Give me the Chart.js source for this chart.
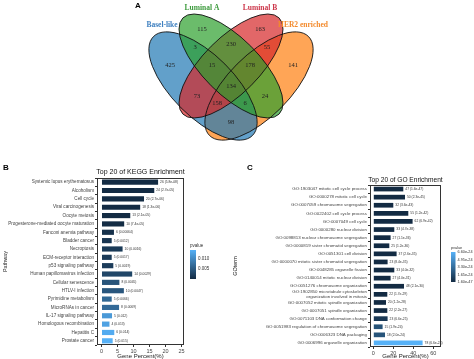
<!DOCTYPE html>
<html>
<head>
<meta charset="utf-8">
<script src="https://cdn.jsdelivr.net/npm/chart.js@4/dist/chart.umd.min.js"></script>
<style>
  body { margin: 0; background: #fff; }
  #wrap { position: relative; width: 474px; height: 359px; overflow: hidden; }
  canvas { position: absolute; }
  .tag { position: absolute; font: bold 8px 'Liberation Sans', Arial, sans-serif; color: #000; line-height: 8px; }
</style>
</head>
<body>
<div id="wrap">
  <canvas id="venn" width="474" height="160" style="left:0;top:0"></canvas>
  <canvas id="kegg" width="240" height="199" style="left:0;top:160px"></canvas>
  <canvas id="go" width="244" height="199" style="left:230px;top:160px"></canvas>
  <div class="tag" style="left:135px;top:2px">A</div>
  <div class="tag" style="left:3px;top:164px">B</div>
  <div class="tag" style="left:247px;top:164px">C</div>
</div>
<script>
'use strict'

// ---- panel A: venn ----
const vennSets = ['Basel-like', 'Luminal A', 'Luminal B', 'HER2 enriched']
const vennCounts = [425, 115, 163, 141, 3, 230, 55, 15, 178, 134, 73, 24, 158, 6, 98]

// ---- panel B: KEGG ----
const keggTerms = [
  'Systemic lupus erythematosus', 'Alcoholism', 'Cell cycle', 'Viral carcinogenesis',
  'Oocyte meiosis', 'Progesterone-mediated oocyte maturation', 'Fanconi anemia pathway',
  'Bladder cancer', 'Necroptosis', 'ECM-receptor interaction', 'p53 signaling pathway',
  'Human papillomavirus infection', 'Cellular senescence', 'HTLV-I infection',
  'Pyrimidine metabolism', 'MicroRNAs in cancer', 'IL-17 signaling pathway',
  'Homologous recombination', 'Hepatitis C', 'Prostate cancer'
]
const keggPercent = [17.7, 16.5, 13.3, 12.1, 9.0, 7.1, 3.9, 3.2, 6.6, 3.2, 3.7, 9.6, 5.6, 7.0, 3.2, 5.5, 3.3, 2.5, 4.0, 3.5]
const keggCounts = [26, 24, 20, 18, 13, 10, 6, 5, 10, 5, 5, 14, 8, 10, 5, 8, 5, 4, 6, 5]
const keggPvalue = [5.8e-8, 2.7e-5, 2.7e-6, 1.3e-6, 2.1e-5, 7.4e-5, 0.00064, 0.0012, 0.0016, 0.0017,
  0.0019, 0.0029, 0.0045, 0.0047, 0.0066, 0.0069, 0.012, 0.013, 0.014, 0.0146]
const keggTicks = [0, 5, 10, 15, 20, 25]
const keggLegendTicks = [0.005, 0.010]

// ---- panel C: GO ----
const goTerms = [
  'GO:1903047 mitotic cell cycle process', 'GO:0000278 mitotic cell cycle',
  'GO:0007059 chromosome segregation', 'GO:0022402 cell cycle process', 'GO:0007049 cell cycle',
  'GO:0000280 nuclear division', 'GO:0098813 nuclear chromosome segregation',
  'GO:0000819 sister chromatid segregation', 'GO:0051301 cell division',
  'GO:0000070 mitotic sister chromatid segregation', 'GO:0048285 organelle fission',
  'GO:0140014 mitotic nuclear division', 'GO:0051276 chromosome organization',
  ['GO:1902850 microtubule cytoskeleton', 'organization involved in mitosis'],
  'GO:0007052 mitotic spindle organization', 'GO:0007051 spindle organization',
  'GO:0071103 DNA conformation change', 'GO:0051983 regulation of chromosome segregation',
  'GO:0006323 DNA packaging', 'GO:0006996 organelle organization'
]
const goPercent = [30, 31.7, 20, 35, 39.3, 21, 17.3, 16, 23.3, 14.3, 21, 17.3, 30.7, 14, 12.7, 14, 14.3, 9.3, 11.7, 49.3]
const goCounts = [47, 50, 32, 55, 62, 33, 27, 25, 37, 23, 33, 27, 48, 22, 20, 22, 23, 15, 18, 78]
const goPvalue = [1.6e-47, 2.3e-45, 3.6e-43, 1.2e-42, 6.9e-42, 4.7e-38, 1.1e-36, 1.2e-36, 2.6e-35, 8.4e-35,
  4.0e-32, 4.0e-31, 2.1e-30, 1.7e-29, 1.2e-28, 2.2e-27, 6.6e-25, 1.9e-24, 2.0e-24, 6.6e-24]
const goTicks = [0, 20, 40, 60]
const goLegendTicks = [6.6e-24, 4.95e-24, 3.3e-24, 1.65e-24, 1.6e-47]

// layout of the venn (page pixels)
const vennShapes = [
  { cx: 203, cy: 86, rx: 70, ry: 31, rot: 45, color: '#1f77b4' },
  { cx: 231, cy: 66, rx: 68, ry: 28, rot: 45, color: '#2ca02c' },
  { cx: 231, cy: 66, rx: 68, ry: 28, rot: -45, color: '#d62728' },
  { cx: 259, cy: 86, rx: 70, ry: 31, rot: -45, color: '#ff7f0e' }
]
const vennAnchors = [[170, 65], [202, 29], [260, 29], [293, 65], [195, 47], [231, 44], [267, 47],
  [212, 65], [250, 65], [231, 86], [197, 96], [265, 96], [217, 103], [245, 103], [231, 122]]
const vennNamePos = [[162, 25], [202, 8], [260, 8], [303, 25]]
const vennNameColors = ['#3f80c0', '#3c9a3c', '#cc3549', '#f38a2c']

Chart.defaults.font.family = "'Liberation Sans', Arial, sans-serif"
Chart.defaults.color = '#444'

const vennDraw = {
  id: 'vennDraw',
  beforeDatasetsDraw(chart) {
    const { ctx, scales: { x, y } } = chart
    const path = e => {
      const cx = x.getPixelForValue(e.cx), cy = y.getPixelForValue(e.cy)
      const rx = Math.abs(x.getPixelForValue(e.cx + e.rx) - cx)
      const ry = Math.abs(x.getPixelForValue(e.cx + e.ry) - cx)
      ctx.beginPath()
      ctx.ellipse(cx, cy, rx, ry, e.rot * Math.PI / 180, 0, Math.PI * 2)
    }
    ctx.save()
    ;[3, 0, 2, 1].forEach(i => {
      path(vennShapes[i])
      ctx.globalAlpha = 0.7
      ctx.fillStyle = vennShapes[i].color
      ctx.fill()
    })
    ctx.globalAlpha = 1
    ctx.strokeStyle = '#111'
    ctx.lineWidth = 0.9
    vennShapes.forEach(e => { path(e); ctx.stroke() })
    ctx.restore()
  },
  afterDatasetsDraw(chart) {
    const { ctx, scales: { x, y } } = chart
    const meta = chart.getDatasetMeta(0)
    ctx.save()
    ctx.textAlign = 'center'
    ctx.textBaseline = 'middle'
    ctx.font = "6.5px 'Liberation Serif', 'Times New Roman', serif"
    ctx.fillStyle = '#222'
    meta.data.forEach((pt, i) => ctx.fillText(String(vennCounts[i]), pt.x, pt.y))
    ctx.font = "bold 7.5px 'Liberation Serif', 'Times New Roman', serif"
    vennSets.forEach((name, i) => {
      ctx.fillStyle = vennNameColors[i]
      ctx.fillText(name, x.getPixelForValue(vennNamePos[i][0]), y.getPixelForValue(vennNamePos[i][1]))
    })
    ctx.restore()
  }
}

new Chart(document.getElementById('venn'), {
  type: 'scatter',
  data: { datasets: [{ data: vennAnchors.map(([x, y]) => ({ x, y })), pointRadius: 0 }] },
  options: {
    responsive: false,
    animation: false,
    layout: { padding: 0 },
    scales: {
      x: { type: 'linear', min: 0, max: 474, display: false },
      y: { type: 'linear', min: 0, max: 160, reverse: true, display: false }
    },
    plugins: { legend: { display: false }, tooltip: { enabled: false } }
  },
  plugins: [vennDraw]
})

// ---- enrichment bar charts ----
const LOW = [19, 43, 67], HIGH = [86, 177, 247]
function pColor(p, min, max) {
  const t = Math.max(0, Math.min(1, (p - min) / (max - min)))
  const c = LOW.map((v, k) => Math.round(v + (HIGH[k] - v) * t))
  return `rgb(${c[0]},${c[1]},${c[2]})`
}
function fmtP(p) {
  if (p < 1e-4) return p.toExponential(1).replace(/e([+-])(\d)$/, 'e$10$2')
  return String(Number(p.toPrecision(2)))
}

const enrichDecor = {
  id: 'enrichDecor',
  afterDatasetsDraw(chart, args, opts) {
    const { ctx, chartArea: area } = chart
    const meta = chart.getDatasetMeta(0)
    ctx.save()
    ctx.font = `${opts.valueSize}px 'Liberation Sans', Arial, sans-serif`
    ctx.fillStyle = '#333'
    ctx.textBaseline = 'middle'
    meta.data.forEach((bar, i) => ctx.fillText(opts.valueText[i], bar.x + 2, bar.y))

    ctx.strokeStyle = '#333'
    ctx.lineWidth = 1
    ctx.strokeRect(area.left + 0.5, area.top + 0.5, area.width - 1, area.height - 1)

    ctx.font = `${opts.titleSize}px 'Liberation Sans', Arial, sans-serif`
    ctx.fillStyle = '#111'
    ctx.textAlign = 'center'
    ctx.fillText(opts.title, (area.left + area.right) / 2, opts.titleY)

    const lg = opts.legend
    ctx.textAlign = 'left'
    ctx.font = `${lg.fontSize}px 'Liberation Sans', Arial, sans-serif`
    ctx.fillStyle = '#333'
    ctx.fillText('pvalue', lg.x, lg.top - 4)
    const grad = ctx.createLinearGradient(0, lg.bottom, 0, lg.top)
    grad.addColorStop(0, pColor(lg.min, lg.min, lg.max))
    grad.addColorStop(1, pColor(lg.max, lg.min, lg.max))
    ctx.fillStyle = grad
    ctx.fillRect(lg.x, lg.top, lg.width, lg.bottom - lg.top)
    ctx.fillStyle = '#333'
    lg.ticks.forEach(v => {
      const yy = lg.bottom - (v - lg.min) / (lg.max - lg.min) * (lg.bottom - lg.top)
      ctx.fillText(lg.format(v), lg.x + lg.width + 2, yy)
    })
    ctx.restore()
  }
}

function enrichChart(id, cfg) {
  const pMin = Math.min(...cfg.pvalues), pMax = Math.max(...cfg.pvalues)
  return new Chart(document.getElementById(id), {
    type: 'bar',
    data: {
      labels: cfg.terms,
      datasets: [{
        data: cfg.percent,
        backgroundColor: cfg.pvalues.map(p => pColor(p, pMin, pMax)),
        barPercentage: cfg.barPct,
        categoryPercentage: 1
      }]
    },
    options: {
      indexAxis: 'y',
      responsive: false,
      animation: false,
      layout: { padding: { top: cfg.top, right: cfg.right, left: 0, bottom: 0 } },
      scales: {
        y: {
          grid: { display: true, drawOnChartArea: false, tickLength: 2, color: '#333' },
          border: { display: false },
          ticks: { autoSkip: false, padding: 1, color: '#444', font: { size: cfg.labelSize, lineHeight: 1.05 } },
          title: { display: true, text: cfg.yTitle, color: '#222', font: { size: 5.5, lineHeight: 1 }, padding: { top: 3, bottom: 0 } },
          afterFit: s => { s.width = cfg.yWidth }
        },
        x: {
          type: 'linear',
          min: cfg.xMin,
          max: cfg.xMax,
          grid: { display: true, drawOnChartArea: false, tickLength: 2, color: '#333' },
          border: { display: false },
          ticks: { autoSkip: false, padding: 1, color: '#444', font: { size: 5.5 } },
          afterBuildTicks: s => { s.ticks = cfg.ticks.map(v => ({ value: v })) },
          title: { display: true, text: 'Gene Percent(%)', color: '#222', font: { size: 6, lineHeight: 1 }, padding: { top: 0, bottom: 0 } },
          afterFit: s => { s.height = cfg.xHeight }
        }
      },
      plugins: {
        legend: { display: false },
        tooltip: { enabled: false },
        enrichDecor: {
          valueText: cfg.counts.map((n, i) => `${n} (${fmtP(cfg.pvalues[i])})`),
          valueSize: 3.3,
          title: cfg.title,
          titleSize: cfg.titleSize,
          titleY: cfg.titleY,
          legend: Object.assign({ min: pMin, max: pMax }, cfg.legend)
        }
      }
    },
    plugins: [enrichDecor]
  })
}

enrichChart('kegg', {
  terms: keggTerms, percent: keggPercent, counts: keggCounts, pvalues: keggPvalue,
  ticks: keggTicks, xMin: -1.4, xMax: 25.8,
  top: 18, right: 56, yWidth: 97, xHeight: 14, barPct: 0.62, labelSize: 4.6,
  yTitle: 'Pathway', title: 'Top 20 of KEGG Enrichment', titleSize: 7, titleY: 12,
  legend: { x: 190, top: 90, bottom: 119, width: 6, fontSize: 4.5, ticks: keggLegendTicks, format: v => v.toFixed(3) }
})

enrichChart('go', {
  terms: goTerms, percent: goPercent, counts: goCounts, pvalues: goPvalue,
  ticks: goTicks, xMin: -3.3, xMax: 67.7,
  top: 25, right: 33, yWidth: 140, xHeight: 12, barPct: 0.58, labelSize: 4.4,
  yTitle: 'GOterm', title: 'Top 20 of GO Enrichment', titleSize: 6.6, titleY: 20,
  legend: { x: 221, top: 92, bottom: 122, width: 4.5, fontSize: 3.8, ticks: goLegendTicks, format: v => v.toExponential(2) }
})
</script>
</body>
</html>
